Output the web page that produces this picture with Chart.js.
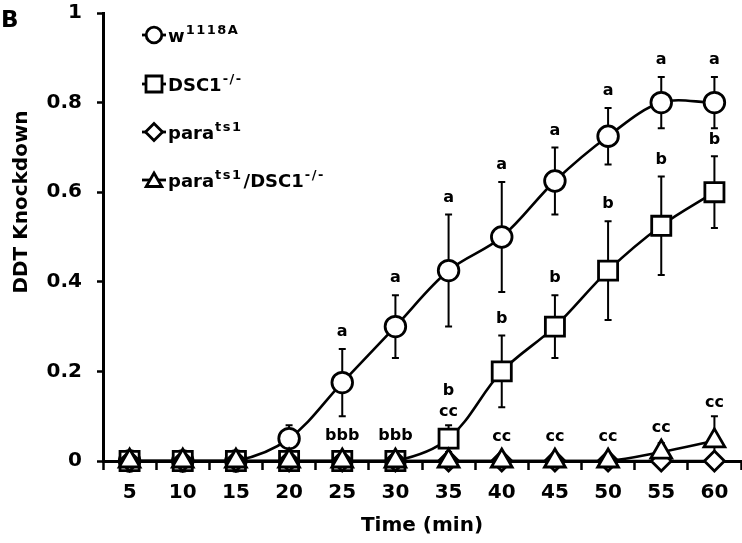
<!DOCTYPE html>
<html><head><meta charset="utf-8">
<script src="https://cdn.jsdelivr.net/npm/chart.js@4/dist/chart.umd.min.js"></script>
<style>html,body{margin:0;padding:0;background:#fff}#wrap{width:742px;height:543px}</style>
</head><body><div id="wrap"><canvas id="c" width="742" height="543"></canvas></div>
<script>
// ---- data ----
const categories = ['5','10','15','20','25','30','35','40','45','50','55','60'];
const yTickLabels = ['0','0.2','0.4','0.6','0.8','1'];
const w1118A      = [0,0,0,0.05,0.175,0.30,0.425,0.50,0.625,0.725,0.80,0.80];
const w1118AErr   = [0,0,0,0.03,0.075,0.07,0.125,0.123,0.075,0.063,0.057,0.057];
const dsc1        = [0,0,0,0,0,0,0.05,0.20,0.30,0.425,0.525,0.60];
const dsc1Err     = [0,0,0,0,0,0,0.03,0.08,0.07,0.11,0.11,0.08];
const parats1     = [0,0,0,0,0,0,0,0,0,0,0,0];
const parats1Err  = [0,0,0,0,0,0,0,0,0,0,0,0];
const paraDsc1    = [0,0,0,0,0,0,0,0,0,0,0.02,0.045];
const paraDsc1Err = [0,0,0,0,0,0,0,0,0,0,0.02,0.055];
const lettersW    = ['','','','','a','a','a','a','a','a','a','a'];
const lettersDsc1 = ['','','','','','','b','b','b','b','b','b'];
const lettersLow  = ['','','','','bbb','bbb','cc','cc','cc','cc','cc','cc'];
const legendLabels = [
  [['w',0],['1118A',1]],
  [['DSC1',0],['-/-',1]],
  [['para',0],['ts1',1]],
  [['para',0],['ts1',1],['/DSC1',0],['-/-',1]]
];
const yTitle = 'DDT Knockdown';
const xTitle = 'Time (min)';
const panelLetter = 'B';

const FONT = '"DejaVu Sans"';
Chart.defaults.font.family = FONT;
Chart.defaults.font.weight = 'bold';
Chart.defaults.color = '#000';

function ds(label, data, errs, style, radius, order){
  return {label, data, errs, pointStyle: style, pointRadius: radius, pointHoverRadius: radius,
    pointBorderWidth: 2.8, pointBackgroundColor:'#fff', pointBorderColor:'#000',
    borderColor:'#000', borderWidth:2.6, backgroundColor:'#fff', fill:false, tension:0.35,
    clip:false, order};
}

function markerPath(ctx, style, x, y, r){
  ctx.beginPath();
  if(style==='circle'){ ctx.arc(x,y,r,0,Math.PI*2); }
  else if(style==='rect'){ const s=r*Math.SQRT1_2; ctx.rect(x-s,y-s,2*s,2*s); }
  else if(style==='rectRot'){ ctx.moveTo(x-r,y); ctx.lineTo(x,y-r); ctx.lineTo(x+r,y); ctx.lineTo(x,y+r); ctx.closePath(); }
  else if(style==='triangle'){ for(let k=0;k<3;k++){const a=k*2*Math.PI/3; const px=x+Math.sin(a)*r, py=y-Math.cos(a)*r; k?ctx.lineTo(px,py):ctx.moveTo(px,py);} ctx.closePath(); }
}

const extras = {
  id:'extras',
  beforeDatasetsDraw(chart){
    const ctx = chart.ctx, ys = chart.scales.y;
    ctx.save(); ctx.strokeStyle='#000'; ctx.lineWidth=2;
    chart.data.datasets.forEach((d,i)=>{
      const meta = chart.getDatasetMeta(i);
      meta.data.forEach((pt,j)=>{
        const e = d.errs[j]; if(!e) return;
        const v = d.data[j];
        const y1 = ys.getPixelForValue(v+e), y2 = ys.getPixelForValue(Math.max(v-e,0));
        ctx.beginPath(); ctx.moveTo(pt.x,y1); ctx.lineTo(pt.x,y2);
        ctx.moveTo(pt.x-3.5,y1); ctx.lineTo(pt.x+3.5,y1);
        ctx.moveTo(pt.x-3.5,y2); ctx.lineTo(pt.x+3.5,y2);
        ctx.stroke();
      });
    });
    ctx.restore();
  },
  afterDatasetsDraw(chart){
    const ctx = chart.ctx, ys = chart.scales.y, xs = chart.scales.x;
    ctx.save();
    ctx.fillStyle='#000'; ctx.textAlign='center'; ctx.textBaseline='middle';
    ctx.font = 'bold 16px '+FONT;
    const base = ys.getPixelForValue(0);
    categories.forEach((c,i)=>{
      const x = xs.getPixelForValue(i);
      if(lettersW[i]){
        ctx.fillText(lettersW[i], x, ys.getPixelForValue(w1118A[i]+w1118AErr[i]) - 17);
      }
      let lowTop = Math.min(ys.getPixelForValue(paraDsc1[i]+paraDsc1Err[i]), ys.getPixelForValue(paraDsc1[i]) - 11);
      const dTop = Math.min(ys.getPixelForValue(dsc1[i]+dsc1Err[i]), ys.getPixelForValue(dsc1[i]) - 12);
      const dscInLow = dTop > base - 45;
      if(dscInLow) lowTop = Math.min(lowTop, dTop);
      const lowY = lowTop - 13;
      if(lettersLow[i]) ctx.fillText(lettersLow[i], x, lowY);
      if(lettersDsc1[i]){
        const y = dscInLow ? lowY - 21 : dTop - 17;
        ctx.fillText(lettersDsc1[i], x, y);
      }
    });
    ctx.restore();
  },
  afterDraw(chart){
    const ctx = chart.ctx;
    ctx.save();
    ctx.fillStyle='#000'; ctx.strokeStyle='#000';
    ctx.font = 'bold 23px '+FONT; ctx.textAlign='left'; ctx.textBaseline='alphabetic';
    ctx.fillText(panelLetter, 1, 27);
    ctx.save(); ctx.translate(22, 202); ctx.rotate(-Math.PI/2);
    ctx.font = 'bold 20px '+FONT; ctx.textAlign='center'; ctx.textBaseline='middle';
    ctx.fillText(yTitle, 0, 0); ctx.restore();
    ctx.font = 'bold 20px '+FONT; ctx.textAlign='center'; ctx.textBaseline='middle';
    ctx.fillText(xTitle, (chart.chartArea.left+chart.chartArea.right)/2, 526);
    const styles = chart.data.datasets.map(d=>d.pointStyle);
    const rs = {circle:7.8, rect:11.3, rectRot:8.5, triangle:9};
    const rowY = [35, 84, 132, 180];
    legendLabels.forEach((segs,k)=>{
      const mx = 154, my = rowY[k];
      ctx.lineWidth = 2.8;
      ctx.beginPath(); ctx.moveTo(mx-12,my); ctx.lineTo(mx+12,my); ctx.stroke();
      markerPath(ctx, styles[k], mx, my + (styles[k]==='triangle'?2:0), rs[styles[k]]);
      ctx.fillStyle='#fff'; ctx.fill(); ctx.stroke(); ctx.fillStyle='#000';
      let tx = 168;
      ctx.textAlign='left'; ctx.textBaseline='alphabetic';
      segs.forEach(([t,sup])=>{
        ctx.font = sup ? 'bold 13px '+FONT : 'bold 18px '+FONT;
        if(sup){
          // superscripts are slightly letter-spaced in the reference
          for(const ch of t){ ctx.fillText(ch, tx, my - 1); tx += ctx.measureText(ch).width + 1.5; }
          tx += 1;
        } else {
          ctx.fillText(t, tx, my + 7);
          tx += ctx.measureText(t).width + 1;
        }
      });
    });
    ctx.restore();
  }
};

new Chart(document.getElementById('c'), {
  type:'line',
  data:{
    labels: categories,
    datasets:[
      ds('w1118A', w1118A, w1118AErr, 'circle', 10.3, 3),
      ds('DSC1-/-', dsc1, dsc1Err, 'rect', 13.5, 2),
      ds('parats1', parats1, parats1Err, 'rectRot', 10, 1),
      ds('parats1/DSC1-/-', paraDsc1, paraDsc1Err, 'triangle', 12, 0)
    ]
  },
  options:{
    responsive:false, animation:false, devicePixelRatio:1,
    layout:{autoPadding:false, padding:{top:13,right:1,left:0,bottom:0}},
    plugins:{legend:{display:false}, tooltip:{enabled:false}},
    scales:{
      x:{type:'category', offset:true,
        grid:{display:true, offset:true, drawOnChartArea:false, drawTicks:true, tickLength:9, tickWidth:2.5, tickColor:'#000'},
        border:{display:true, width:3, color:'#000'},
        ticks:{color:'#000', font:{size:20, weight:'bold', family:FONT}, padding:11, maxRotation:0, autoSkip:false},
        afterFit(s){ s.height = 82; s.paddingLeft = 0; s.paddingRight = 0; }
      },
      y:{min:0, max:1,
        grid:{display:true, drawOnChartArea:false, drawTicks:true, tickLength:6, tickWidth:2.5, tickColor:'#000'},
        border:{display:true, width:3, color:'#000'},
        ticks:{stepSize:0.2, color:'#000', font:{size:20, weight:'bold', family:FONT}, padding:15,
          callback:(v,i)=>yTickLabels[i]},
        afterFit(s){ s.width = 103; s.paddingTop = 0; s.paddingBottom = 0; }
      }
    }
  },
  plugins:[extras]
});
</script></body></html>
